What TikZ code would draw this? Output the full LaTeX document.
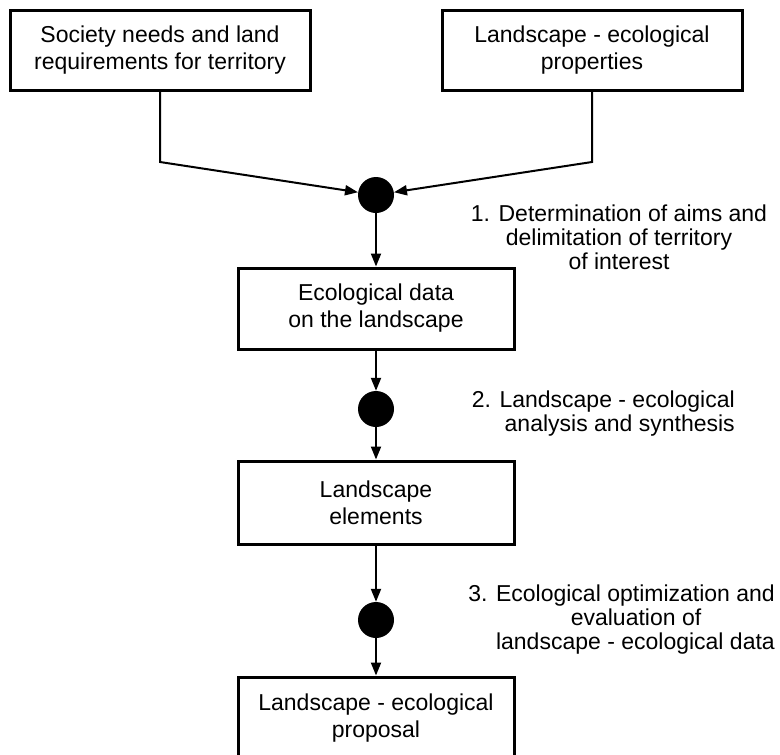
\documentclass[tikz,border=0pt]{standalone}
\usepackage{fontspec}
\setmainfont{Liberation Sans}
\usetikzlibrary{arrows.meta}
\begin{document}
\begin{tikzpicture}[x=1pt,y=-1pt,
  box/.style={draw, line width=3pt, minimum width=300pt, minimum height=80pt, align=center, inner sep=0pt, font=\fontsize{23}{27}\selectfont},
  mbox/.style={box, minimum width=276pt},
  dot/.style={circle, fill=black, minimum size=36pt, inner sep=0pt},
  conn/.style={line width=2pt, -{Triangle[length=13pt,width=10pt]}},
  lab/.style={inner sep=0pt, font=\fontsize{23}{24}\selectfont}]
\useasboundingbox (0,0) rectangle (780,755);
\node[box] (b1) at (160,50) {Society needs and land\\requirements for territory};
\node[box] (b2) at (592,50) {Landscape - ecological\\properties};
\node[dot] (c1) at (376,195) {};
\node[mbox, minimum height=81pt] (b3) at (376,308.5) {Ecological data\\on the landscape};
\node[dot] (c2) at (376,409) {};
\node[mbox, minimum height=83pt] (b4) at (376,502.5) {Landscape\\elements};
\node[dot] (c3) at (376,620) {};
\node[mbox, minimum height=82pt] (b5) at (376,718) {Landscape - ecological\\proposal};
\coordinate (k1) at (160,162);
\coordinate (k2) at (592,162);
\draw[conn] (b1.south) -- (k1) -- (c1);
\draw[conn] (b2.south) -- (k2) -- (c1);
\draw[conn] (c1) -- (b3);
\draw[conn] (b3) -- (c2);
\draw[conn] (c2) -- (b4);
\draw[conn] (b4) -- (c3);
\draw[conn] (c3) -- (b5);
\node[lab, align=center] (l1) at (619,237) {1. Determination of aims and\\delimitation of territory\\of interest};
\node[lab, align=right, anchor=east] (l2) at (735,414) {2. Landscape - ecological\\analysis and synthesis};
\node[lab, align=right, anchor=east] (l3) at (775,620) {3. Ecological optimization and\\\makebox[204pt][l]{evaluation of}\\landscape - ecological data};
\end{tikzpicture}
\end{document}
